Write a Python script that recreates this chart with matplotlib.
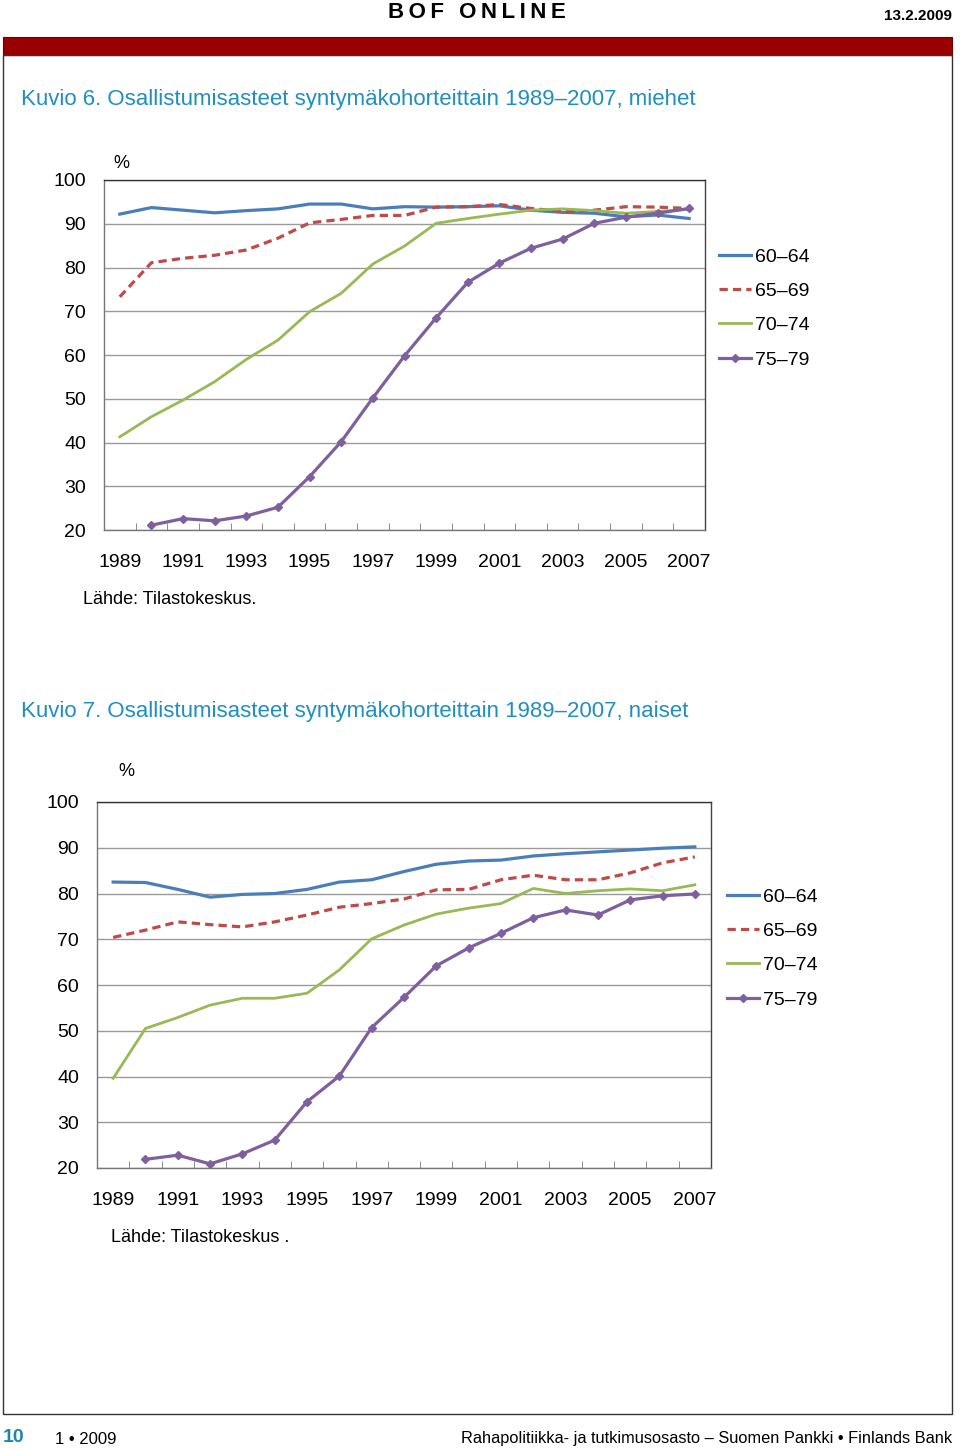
import numpy as np
import matplotlib
matplotlib.use('Agg')
import matplotlib.pyplot as plt
from matplotlib.patches import Rectangle

plt.rcParams['font.family'] = ['Liberation Sans', 'DejaVu Sans']

# Data
years = [str(y) for y in range(1989, 2008)]
groups = ['60–64', '65–69', '70–74', '75–79']

men_6064 = [92.2, 93.7, 93.1, 92.5, 93.0, 93.4, 94.5, 94.5, 93.4, 93.9,
            93.8, 93.9, 94.1, 93.1, 92.6, 92.4, 91.6, 92.0, 91.2]
men_6569 = [73.3, 81.1, 82.1, 82.8, 84.0, 86.7, 90.2, 91.0, 91.9, 91.9,
            93.8, 93.9, 94.4, 93.5, 92.8, 93.1, 93.9, 93.8, 93.5]
men_7074 = [41.3, 45.9, 49.7, 53.9, 59.0, 63.4, 69.9, 74.1, 80.8, 84.9,
            90.1, 91.2, 92.2, 93.1, 93.4, 93.0, 92.4, 92.8, 93.3]
men_7579 = [np.nan, 21.1, 22.6, 22.1, 23.2, 25.2, 32.2, 40.2, 50.2, 59.8,
            68.5, 76.6, 81.0, 84.4, 86.5, 90.1, 91.5, 92.4, 93.5]

women_6064 = [82.5, 82.4, 80.9, 79.2, 79.8, 80.0, 80.9, 82.5, 83.0, 84.8,
              86.4, 87.1, 87.3, 88.2, 88.7, 89.1, 89.5, 89.9, 90.2]
women_6569 = [70.4, 72.0, 73.8, 73.2, 72.7, 73.8, 75.3, 77.0, 77.8, 78.8,
              80.8, 80.9, 83.0, 84.0, 83.0, 83.0, 84.5, 86.7, 88.0]
women_7074 = [39.6, 50.5, 52.9, 55.6, 57.1, 57.1, 58.2, 63.3, 70.1, 73.1,
              75.5, 76.8, 77.8, 81.1, 80.0, 80.6, 81.0, 80.6, 81.9]
women_7579 = [np.nan, 21.9, 22.8, 20.9, 23.1, 26.1, 34.5, 40.1, 50.7, 57.3,
              64.2, 68.1, 71.3, 74.7, 76.4, 75.3, 78.6, 79.5, 79.9]

yticks = [20, 30, 40, 50, 60, 70, 80, 90, 100]

W, H = 960, 1450
TITLE_COL = '#1f8fc0'
styles = [dict(color='#4a7ebb', lw=2.3),
          dict(color='#be4b48', lw=2.3, ls=(0, (2.6, 1.6))),
          dict(color='#98b954', lw=2.0),
          dict(color='#7d60a0', lw=2.3, marker='D', ms=4.5)]


def fx(x):
    return x / W


def fy(y):
    return 1 - y / H


fig = plt.figure(figsize=(W / 100, H / 100), dpi=100)

# page header / frame
fig.text(fx(477), fy(13), '\u2009'.join('BOF ONLINE'), ha='center', va='center',
         fontsize=16, fontweight='bold')
fig.text(fx(952), fy(16), '13.2.2009', ha='right', va='center',
         fontsize=11, fontweight='bold')
fig.patches.append(Rectangle((fx(3), fy(55)), fx(949), 18 / H, transform=fig.transFigure,
                             facecolor='#990000', edgecolor='#6a0000', lw=0.8))
fig.patches.append(Rectangle((fx(3), fy(1414)), fx(949), 1359 / H, transform=fig.transFigure,
                             facecolor='none', edgecolor='#333333', lw=1.0))


def chart(left, top, right, bottom, series, title, title_y, pct_xy, legend_xy, src, src_xy):
    fig.text(fx(21), fy(title_y), title, ha='left', va='center', fontsize=16, color=TITLE_COL)
    ax = fig.add_axes([fx(left), fy(bottom), fx(right - left), (bottom - top) / H])
    x = np.arange(len(years))
    for vals, lab, st in zip(series, groups, styles):
        ax.plot(x, vals, label=lab, **st)
    ax.set_xlim(-0.5, len(years) - 0.5)
    ax.set_ylim(20, 100)
    ax.set_yticks(yticks)
    ax.set_xticks(x[::2])
    ax.set_xticklabels(years[::2])
    ax.set_xticks(x[:-1] + 0.5, minor=True)
    ax.tick_params(axis='y', length=0, pad=13, labelsize=14)
    ax.tick_params(axis='x', which='major', length=0, pad=17.5, labelsize=14)
    ax.tick_params(axis='x', which='minor', length=5, direction='in', color='#777777')
    ax.grid(axis='y', color='#9a9a9a', lw=1.0)
    ax.set_axisbelow(True)
    for s in ax.spines.values():
        s.set_color('#777777')
        s.set_linewidth(1.0)
    ax.spines['top'].set_color('#333333')
    ax.spines['right'].set_color('#444444')
    fig.text(fx(pct_xy[0]), fy(pct_xy[1]), '%', ha='left', va='center', fontsize=13)
    fig.text(fx(src_xy[0]), fy(src_xy[1]), src, ha='left', va='center', fontsize=13)
    ax.legend(loc='upper left', bbox_to_anchor=(fx(legend_xy[0]), fy(legend_xy[1])),
              bbox_transform=fig.transFigure, frameon=False, fontsize=14,
              handlelength=1.65, handletextpad=0.2, labelspacing=0.86, borderpad=0,
              borderaxespad=0)
    return ax


chart(104, 180, 705, 530, [men_6064, men_6569, men_7074, men_7579],
      'Kuvio 6. Osallistumisasteet syntymäkohorteittain 1989–2007, miehet', 100,
      (113, 163), (719, 248), 'Lähde: Tilastokeskus.', (83, 600))
chart(97, 802, 711, 1168, [women_6064, women_6569, women_7074, women_7579],
      'Kuvio 7. Osallistumisasteet syntymäkohorteittain 1989–2007, naiset', 711,
      (118, 772), (727, 888), 'Lähde: Tilastokeskus .', (111, 1237))

# footer
fig.text(fx(3), fy(1437), '10', ha='left', va='center', fontsize=14,
         fontweight='bold', color='#1a86b0')
fig.text(fx(55), fy(1439), '1 • 2009', ha='left', va='center', fontsize=12)
fig.text(fx(952), fy(1439), 'Rahapolitiikka- ja tutkimusosasto – Suomen Pankki • Finlands Bank',
         ha='right', va='center', fontsize=11.8)

fig.savefig('out.png', dpi=100)
